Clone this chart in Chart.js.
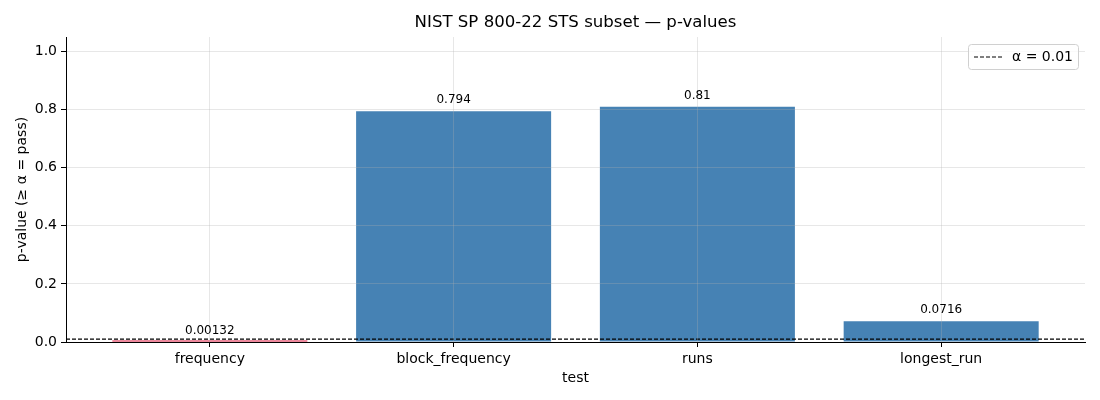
<!DOCTYPE html>
<html>
<head>
<meta charset="utf-8">
<title>NIST SP 800-22 STS subset</title>
<script src="https://cdn.jsdelivr.net/npm/chart.js@4/dist/chart.umd.min.js"></script>
<style>
    html, body { margin: 0; padding: 0; background: #fff; }
    #wrap { width: 1100px; height: 400px; }
</style>
</head>
<body>
<div id="wrap"><canvas id="bar-chart-area" width="1100" height="400"></canvas></div>
<script>
var arrTests = ["frequency", "block_frequency", "runs", "longest_run"];
var arrPValues = [0.00132, 0.794, 0.81, 0.0716];
var arrValueLabels = ["0.00132", "0.794", "0.81", "0.0716"];
var arrYTicks = [0, 0.2, 0.4, 0.6, 0.8, 1.0];
var alpha = 0.01;
var titleText = "NIST SP 800-22 STS subset \u2014 p-values";

var fontFamily = "'DejaVu Sans', sans-serif";
var xMin = -0.59, xMax = arrTests.length - 1 + 0.59;

function buildBarData() {
    var pts = [];
    for (var i = 0; i < arrPValues.length; i++) {
        pts.push({x: i, y: arrPValues[i]});
    }
    return pts;
}

function buildColors() {
    var cols = [];
    for (var i = 0; i < arrPValues.length; i++) {
        cols.push(arrPValues[i] < alpha ? "#dc143c" : "#4682b4");
    }
    return cols;
}

// title, value labels and the in-axes legend
var extrasPlugin = {
    id: "extras",
    afterDraw: function (chart) {
        var ctx = chart.ctx;
        var area = chart.chartArea;
        ctx.save();

        ctx.fillStyle = "#000";
        ctx.font = "16.6px " + fontFamily;
        ctx.textAlign = "center";
        ctx.textBaseline = "middle";
        ctx.fillText(titleText, (area.left + area.right) / 2, 23);

        var meta = chart.getDatasetMeta(0);
        ctx.font = "12px " + fontFamily;
        ctx.textBaseline = "bottom";
        meta.data.forEach(function (bar, i) {
            ctx.fillText(arrValueLabels[i], bar.x, chart.scales.y.getPixelForValue(arrPValues[i]) - 5);
        });

        // legend box
        var bx = 968, by = 44, bw = 110, bh = 25;
        ctx.beginPath();
        ctx.roundRect(bx + 0.5, by + 0.5, bw, bh, 3);
        ctx.fillStyle = "rgba(255,255,255,0.8)";
        ctx.fill();
        ctx.strokeStyle = "#d0d0d0";
        ctx.lineWidth = 1;
        ctx.stroke();

        ctx.beginPath();
        ctx.setLineDash([4, 2]);
        ctx.strokeStyle = "#000";
        ctx.moveTo(974, by + 13);
        ctx.lineTo(1004, by + 13);
        ctx.stroke();
        ctx.setLineDash([]);

        ctx.fillStyle = "#000";
        ctx.font = "14px " + fontFamily;
        ctx.textAlign = "left";
        ctx.textBaseline = "middle";
        ctx.fillText("\u03b1 = " + alpha, 1012, by + 13);
        ctx.restore();
    }
};

function renderBars() {
    var config = {
        type: "bar",
        data: {
            datasets: [{
                    type: "bar",
                    data: buildBarData(),
                    backgroundColor: buildColors(),
                    barPercentage: 0.8,
                    categoryPercentage: 1.0,
                    minBarLength: 1.5,
                    order: 2
                }, {
                    type: "line",
                    label: "\u03b1 = " + alpha,
                    data: [{x: xMin, y: alpha}, {x: xMax, y: alpha}],
                    borderColor: "#000",
                    borderWidth: 1.2,
                    borderDash: [4, 2],
                    pointRadius: 0,
                    fill: false,
                    order: 1
                }]
        },
        options: {
            responsive: false,
            animation: false,
            layout: {padding: {top: 37, right: 15, left: 0, bottom: 0}},
            plugins: {
                legend: {display: false},
                title: {display: false},
                tooltip: {enabled: false}
            },
            scales: {
                x: {
                    type: "linear",
                    min: xMin,
                    max: xMax,
                    offset: false,
                    afterBuildTicks: function (scale) {
                        scale.ticks = arrTests.map(function (t, i) { return {value: i}; });
                    },
                    afterFit: function (scale) { scale.height = 58; },
                    ticks: {
                        color: "#000",
                        font: {family: fontFamily, size: 14},
                        padding: 4,
                        maxRotation: 0,
                        callback: function (v) { return arrTests[v]; }
                    },
                    grid: {
                        offset: false,
                        z: 1,
                        color: "rgba(176,176,176,0.3)",
                        tickColor: "#000",
                        tickLength: 5
                    },
                    border: {display: true, color: "#000", width: 1, z: 2},
                    title: {
                        display: true,
                        text: "test",
                        color: "#000",
                        font: {family: fontFamily, size: 14},
                        padding: {top: 0, bottom: 13}
                    }
                },
                y: {
                    min: 0,
                    max: 1.05,
                    afterBuildTicks: function (scale) {
                        scale.ticks = arrYTicks.map(function (v) { return {value: v}; });
                    },
                    afterFit: function (scale) { scale.width = 66; },
                    ticks: {
                        color: "#000",
                        font: {family: fontFamily, size: 14},
                        padding: 4,
                        callback: function (v) { return v.toFixed(1); }
                    },
                    grid: {
                        z: 1,
                        color: "rgba(176,176,176,0.3)",
                        tickColor: "#000",
                        tickLength: 5
                    },
                    border: {display: true, color: "#000", width: 1, z: 2},
                    title: {
                        display: true,
                        text: "p-value (\u2265 \u03b1 = pass)",
                        color: "#000",
                        font: {family: fontFamily, size: 14},
                        padding: {top: 14, bottom: 0}
                    }
                }
            }
        },
        plugins: [extrasPlugin]
    };
    var ctx = document.getElementById("bar-chart-area").getContext("2d");
    var myBars = new Chart(ctx, config);
}

renderBars();
</script>
</body>
</html>
